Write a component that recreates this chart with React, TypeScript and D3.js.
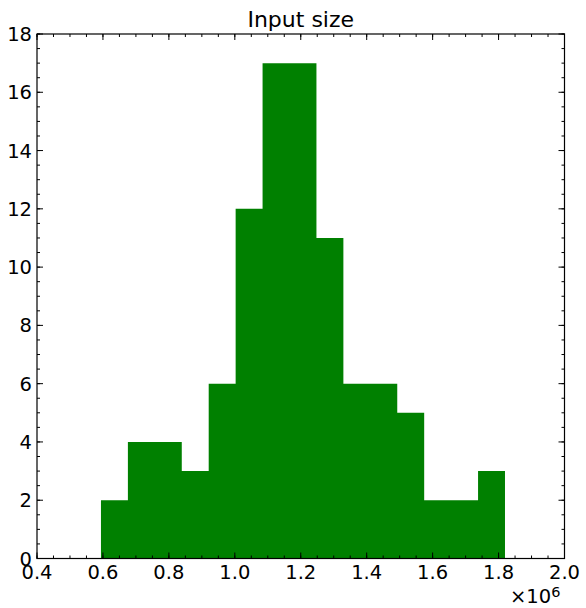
import React from "react";
import * as d3 from "d3";

const binStart = 594000;
const binWidth = 81700;
const counts = [2, 4, 4, 3, 6, 12, 17, 17, 11, 6, 6, 5, 2, 2, 3];
const xTicks = [0.4, 0.6, 0.8, 1.0, 1.2, 1.4, 1.6, 1.8, 2.0];
const yTicks = [0, 2, 4, 6, 8, 10, 12, 14, 16, 18];
const title = "Input size";

export default function App() {
  const W = 586, H = 608;
  const L = 37, R = 564.5, T = 34, B = 558.5;
  const x = d3.scaleLinear().domain([0.4e6, 2.0e6]).range([L, R]);
  const y = d3.scaleLinear().domain([0, 18]).range([B, T]);
  const xMinor = d3.range(0.4, 2.0001, 0.05).map((v) => v * 1e6);
  const yMinor = d3.range(0, 18.001, 0.5);
  const font = "'DejaVu Sans', sans-serif";
  const pts: [number, number][] = [[x(binStart), y(0)]];
  counts.forEach((c, i) => {
    pts.push([x(binStart + i * binWidth), y(c)]);
    pts.push([x(binStart + (i + 1) * binWidth), y(c)]);
  });
  pts.push([x(binStart + counts.length * binWidth), y(0)]);
  const histPath = d3.line()(pts) + "Z";
  return (
    <svg width={W} height={H} style={{ position: "absolute", left: 0, top: 0 }}>
      <rect width={W} height={H} fill="white" />
      <path d={histPath} fill="#008000" stroke="none" />
      <g stroke="black" strokeWidth={1}>
        {xMinor.map((v, i) => (
          <g key={"xm" + i}>
            <line x1={x(v)} x2={x(v)} y1={B} y2={B - 3} />
            <line x1={x(v)} x2={x(v)} y1={T} y2={T + 3} />
          </g>
        ))}
        {xTicks.map((v, i) => (
          <g key={"xM" + i}>
            <line x1={x(v * 1e6)} x2={x(v * 1e6)} y1={B} y2={B - 6} />
            <line x1={x(v * 1e6)} x2={x(v * 1e6)} y1={T} y2={T + 6} />
          </g>
        ))}
        {yMinor.map((v, i) => (
          <g key={"ym" + i}>
            <line x1={L} x2={L + 3} y1={y(v)} y2={y(v)} />
            <line x1={R} x2={R - 3} y1={y(v)} y2={y(v)} />
          </g>
        ))}
        {yTicks.map((v, i) => (
          <g key={"yM" + i}>
            <line x1={L} x2={L + 6} y1={y(v)} y2={y(v)} />
            <line x1={R} x2={R - 6} y1={y(v)} y2={y(v)} />
          </g>
        ))}
      </g>
      <rect x={L} y={T} width={R - L} height={B - T} fill="none" stroke="black" strokeWidth={1.2} />
      <g fontFamily={font} fontSize={19.5} fill="black">
        {xTicks.map((v, i) => (
          <text key={"xl" + i} x={x(v * 1e6)} y={B + 20} textAnchor="middle">
            {v.toFixed(1)}
          </text>
        ))}
        {yTicks.map((v, i) => (
          <text key={"yl" + i} x={L - 5} y={y(v)} dy="0.36em" textAnchor="end">
            {v}
          </text>
        ))}
        <text x={(L + R) / 2} y={27} textAnchor="middle" fontSize={22}>{title}</text>
        <text x={510} y={603}>
          ×10<tspan fontSize={14.5} dy={-6}>6</tspan>
        </text>
      </g>
    </svg>
  );
}
